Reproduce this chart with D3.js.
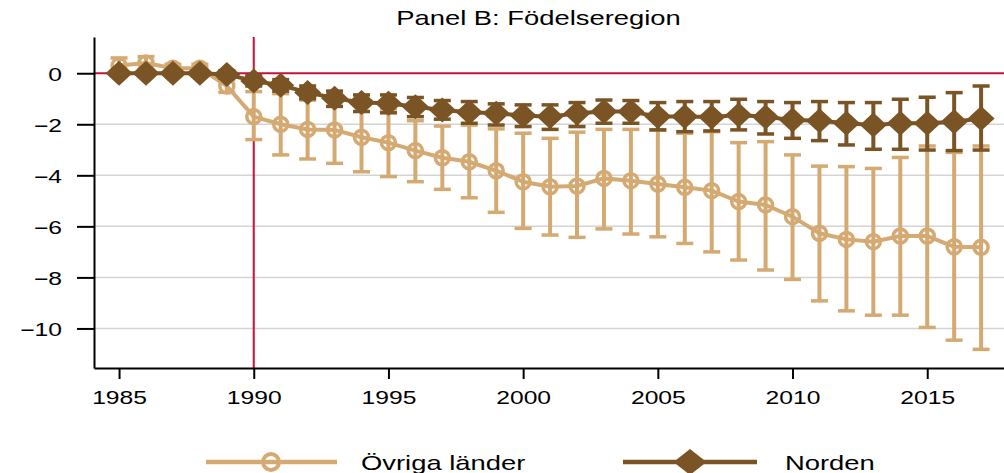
<!DOCTYPE html>
<html>
<head>
<meta charset="utf-8">
<script src="https://cdn.jsdelivr.net/npm/d3@7"></script>
<style>
  body { margin: 0; background: #fff; }
  text { font-family: "Liberation Sans", Arial, sans-serif; fill: #000; }
</style>
</head>
<body>
<div id="chart"></div>
<script>
// chart data
const years = [1985, 1986, 1987, 1988, 1989, 1990, 1991, 1992, 1993, 1994, 1995, 1996, 1997, 1998, 1999, 2000,
  2001, 2002, 2003, 2004, 2005, 2006, 2007, 2008, 2009, 2010, 2011, 2012, 2013, 2014, 2015, 2016, 2017];

// Övriga länder: estimate and confidence interval
const ovriga = [0.3, 0.4, 0.2, 0.2, -0.5, -1.7, -2.0, -2.2, -2.22, -2.51, -2.72, -3.03, -3.31, -3.47, -3.82, -4.25,
  -4.45, -4.42, -4.12, -4.21, -4.34, -4.47, -4.6, -5.03, -5.16, -5.62, -6.27, -6.51, -6.6, -6.38, -6.38, -6.8, -6.82];
const ovrigaLo = [0.05, 0.15, 0.05, 0.05, -0.75, -2.6, -3.2, -3.36, -3.53, -3.86, -4.05, -4.25, -4.55, -4.88, -5.45, -6.08,
  -6.34, -6.43, -6.1, -6.3, -6.41, -6.67, -7.0, -7.32, -7.71, -8.08, -8.92, -9.31, -9.48, -9.48, -9.96, -10.46, -10.82];
const ovrigaHi = [0.6, 0.65, 0.35, 0.35, -0.25, -0.72, -0.8, -1.05, -0.9, -1.2, -1.4, -1.86, -2.07, -2.03, -2.18, -2.35,
  -2.55, -2.31, -2.2, -2.2, -2.22, -2.35, -2.29, -2.72, -2.68, -3.2, -3.64, -3.66, -3.73, -3.3, -2.85, -3.1, -2.85];

// Norden: estimate and confidence interval
const norden = [0, 0, 0, 0, -0.05, -0.3, -0.47, -0.75, -0.98, -1.15, -1.18, -1.31, -1.44, -1.53, -1.57, -1.66,
  -1.7, -1.57, -1.5, -1.5, -1.7, -1.7, -1.71, -1.64, -1.71, -1.83, -1.86, -1.96, -2.03, -1.96, -1.96, -1.9, -1.77];
const nordenLo = [0, 0, 0, 0, -0.2, -0.5, -0.7, -1.0, -1.3, -1.5, -1.55, -1.7, -1.8, -1.96, -2.03, -2.09,
  -2.2, -2.09, -1.96, -1.96, -2.22, -2.29, -2.26, -2.22, -2.38, -2.55, -2.64, -2.81, -2.98, -2.98, -3.01, -3.03, -3.01];
const nordenHi = [0, 0, 0, 0, 0.1, -0.1, -0.25, -0.5, -0.7, -0.85, -0.85, -0.95, -1.07, -1.11, -1.2, -1.24,
  -1.24, -1.15, -1.05, -1.07, -1.15, -1.11, -1.11, -1.02, -1.11, -1.15, -1.11, -1.15, -1.15, -1.02, -0.94, -0.76, -0.5];

const xTicks = [1985, 1990, 1995, 2000, 2005, 2010, 2015];
const yTicks = [0, -2, -4, -6, -8, -10];
const reformYear = 1990;
const title = "Panel B: Födelseregion";
const seriesNames = ["Övriga länder", "Norden"];

const width = 1004;
const height = 473;
const margin = { top: 37, right: 0, bottom: 105, left: 94 };
const stretch = 1.37; // all text in the reference is drawn wide

const colLight = "#d5aa72";
const colDark = "#7a5424";
const colRed = "#c8103a";

const svg = d3.select('#chart').append('svg')
    .attr('width', width)
    .attr('height', height);

const x = d3.scaleLinear()
    .domain([1984.07, 2017.85])
    .range([margin.left, width - margin.right]);

const y = d3.scaleLinear()
    .domain([-11.55, 1.42])
    .range([height - margin.bottom, margin.top]);

// gridlines
svg.append('g')
    .selectAll('line')
    .data(yTicks.filter(d => d !== 0))
    .join('line')
    .attr('x1', margin.left)
    .attr('x2', width - margin.right)
    .attr('y1', d => y(d))
    .attr('y2', d => y(d))
    .attr('stroke', '#d4d4d4')
    .attr('stroke-width', 1.5);

// reference lines
svg.append('line')
    .attr('x1', margin.left).attr('x2', width - margin.right)
    .attr('y1', y(0)).attr('y2', y(0))
    .attr('stroke', colRed).attr('stroke-width', 2);
svg.append('line')
    .attr('x1', x(reformYear)).attr('x2', x(reformYear))
    .attr('y1', margin.top).attr('y2', height - margin.bottom)
    .attr('stroke', colRed).attr('stroke-width', 2);

// axes
const xAxis = svg.append('g')
    .attr('transform', `translate(0,${height - margin.bottom})`)
    .call(d3.axisBottom(x).tickValues(xTicks).tickFormat(d3.format('d')).tickSize(11).tickSizeOuter(0));
xAxis.select('.domain').attr('stroke', '#000').attr('stroke-width', 2);
xAxis.selectAll('.tick line').attr('stroke', '#000').attr('stroke-width', 2);
xAxis.selectAll('.tick text')
    .attr('y', 36).attr('dy', null)
    .attr('font-size', 18)
    .attr('transform', `scale(${stretch},1)`);

const yAxis = svg.append('g')
    .attr('transform', `translate(${margin.left},0)`)
    .call(d3.axisLeft(y).tickValues(yTicks).tickSize(17).tickSizeOuter(0));
yAxis.select('.domain').attr('stroke', '#000').attr('stroke-width', 2);
yAxis.selectAll('.tick line').attr('stroke', '#000').attr('stroke-width', 2);
yAxis.selectAll('.tick text')
    .attr('x', -32 / stretch).attr('dy', null).attr('y', 7)
    .attr('font-size', 18)
    .attr('transform', `scale(${stretch},1)`);

const diamond = (hw, hh) => `M0,${-hh}L${hw},0L0,${hh}L${-hw},0Z`;

// draw one series with error bars, line and markers
function drawSeries(values, lo, hi, color, marker) {
    const g = svg.append('g');
    const rows = years.map((yr, i) => ({ year: yr, v: values[i], lo: lo[i], hi: hi[i] }));

    g.selectAll('.bar')
        .data(rows)
        .join('line')
        .attr('x1', d => x(d.year)).attr('x2', d => x(d.year))
        .attr('y1', d => y(d.lo)).attr('y2', d => y(d.hi))
        .attr('stroke', color).attr('stroke-width', 4);

    ['lo', 'hi'].forEach(function(key) {
        g.selectAll('.cap-' + key)
            .data(rows)
            .join('line')
            .attr('x1', d => x(d.year) - 8.5).attr('x2', d => x(d.year) + 8.5)
            .attr('y1', d => y(d[key])).attr('y2', d => y(d[key]))
            .attr('stroke', color).attr('stroke-width', 3.5);
    });

    g.append('path')
        .datum(rows)
        .attr('fill', 'none')
        .attr('stroke', color)
        .attr('stroke-width', 4)
        .attr('d', d3.line().x(d => x(d.year)).y(d => y(d.v)));

    if (marker === 'circle') {
        g.selectAll('circle')
            .data(rows)
            .join('circle')
            .attr('cx', d => x(d.year)).attr('cy', d => y(d.v))
            .attr('r', 7)
            .attr('fill', 'none')
            .attr('stroke', color).attr('stroke-width', 3.5);
    } else {
        g.selectAll('.diamond')
            .data(rows)
            .join('path')
            .attr('transform', d => `translate(${x(d.year)},${y(d.v)})`)
            .attr('d', diamond(13.5, 12.5))
            .attr('fill', color);
    }
}

drawSeries(ovriga, ovrigaLo, ovrigaHi, colLight, 'circle');
drawSeries(norden, nordenLo, nordenHi, colDark, 'diamond');

// title
svg.append('text')
    .attr('transform', `translate(538.5,25) scale(${stretch},1)`)
    .attr('text-anchor', 'middle')
    .attr('font-size', 20)
    .text(title);

// legend
const legY = 462;
const legend = svg.append('g');
const leg1 = legend.append('g');
leg1.append('line').attr('x1', 206).attr('x2', 337).attr('y1', legY).attr('y2', legY)
    .attr('stroke', colLight).attr('stroke-width', 4.5);
leg1.append('circle').attr('cx', 271).attr('cy', legY).attr('r', 8)
    .attr('fill', 'none').attr('stroke', colLight).attr('stroke-width', 4);
leg1.append('text').attr('transform', `translate(361,${legY + 8}) scale(${stretch},1)`)
    .attr('font-size', 20).text(seriesNames[0]);

const leg2 = legend.append('g');
leg2.append('line').attr('x1', 623).attr('x2', 757).attr('y1', legY).attr('y2', legY)
    .attr('stroke', colDark).attr('stroke-width', 4.5);
leg2.append('path').attr('transform', `translate(690,${legY})`)
    .attr('d', diamond(16.5, 13))
    .attr('fill', colDark);
leg2.append('text').attr('transform', `translate(785,${legY + 8}) scale(${stretch},1)`)
    .attr('font-size', 20).text(seriesNames[1]);
</script>
</body>
</html>
